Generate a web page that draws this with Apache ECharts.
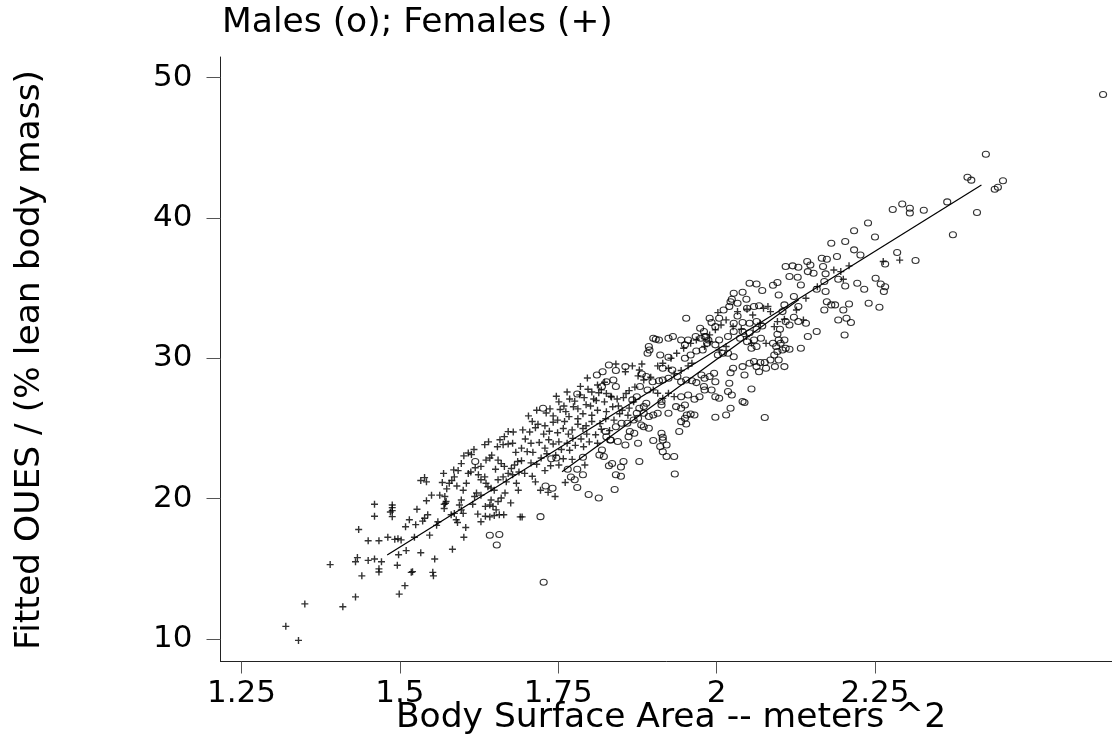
<!DOCTYPE html>
<html>
<head>
<meta charset="utf-8">
<script src="https://cdn.jsdelivr.net/npm/echarts@6/dist/echarts.min.js"></script>
<style>
html,body{margin:0;padding:0;background:#fff;}
#c{width:1112px;height:739px;}
</style>
</head>
<body>
<div id="c"></div>
<script>
const titleText = 'Males (o); Females (+)';
const xName = 'Body Surface Area -- meters ^2';
const yName = 'Fitted OUES / (% lean body mass)';
const xTicks = [1.25, 1.5, 1.75, 2, 2.25];
const yTicks = [10, 20, 30, 40, 50];

const femaleLow = [
[1.32,10.9],[1.34,9.9],[1.35,12.5],[1.39,15.3],[1.41,12.3],[1.43,13.0],[1.435,17.8],[1.44,14.5],[1.43,15.5],[1.433,15.8],
[1.45,15.6],[1.45,17.0],[1.46,15.7],[1.467,17.0],[1.46,19.6],[1.46,18.75],[1.467,15.0],[1.467,14.77],[1.471,15.5],[1.481,17.25],
[1.488,19.55],[1.488,19.36],[1.488,19.15],[1.485,19.05],[1.488,18.72],[1.492,17.1],[1.497,17.15],[1.502,17.06],[1.496,15.25],[1.498,16.0],
[1.499,13.2],[1.508,13.8],[1.51,16.3],[1.509,18.0],[1.515,18.5],[1.518,14.75],[1.52,14.8],[1.523,17.25],[1.527,19.25],[1.525,18.15],
[1.533,16.15],[1.533,21.3],[1.539,21.5],[1.542,21.2],[1.536,18.4],[1.539,18.6],[1.544,18.85],[1.542,19.85],[1.547,17.4],[1.55,20.25],
[1.552,14.75],[1.553,14.5],[1.555,15.7],[1.558,18.1],[1.56,18.35],[1.563,20.25],[1.571,20.15],[1.569,21.8],[1.567,21.15],[1.57,19.6],
[1.572,19.67],[1.573,19.8],[1.57,19.3],[1.574,20.7],[1.578,21.1],[1.582,21.3],[1.586,21.55],[1.583,16.4],[1.581,18.85],[1.586,18.95],
[1.589,18.5],[1.591,18.3],[1.585,22.05],[1.592,22.0],[1.594,19.55],[1.597,19.2],[1.6,18.95],[1.601,17.25],[1.604,17.95],[1.597,19.9],
[1.6,20.6],[1.605,21.1],[1.608,21.8],[1.597,22.5],[1.601,23.05],[1.608,23.25],[1.613,23.15],[1.617,23.5],[1.618,20.15],[1.621,20.4],
[1.628,20.25],[1.623,18.9],[1.628,18.35],[1.635,18.75],[1.642,18.7],[1.649,18.8],[1.657,18.85],[1.664,18.85],[1.635,19.45],[1.642,19.55],
[1.647,19.45],[1.652,19.2],[1.628,21.35],[1.634,21.55],[1.636,21.1],[1.639,20.85],[1.644,20.75],[1.649,20.6],[1.644,19.9],[1.655,19.8],
[1.66,20.05],[1.666,20.4],[1.675,19.7],[1.628,22.3],[1.636,22.75],[1.642,22.9],[1.645,23.1],[1.654,23.7],[1.663,23.85],[1.671,23.9],
[1.678,23.95],[1.634,23.85],[1.64,24.05],[1.655,22.75],[1.66,22.5],[1.665,22.3],[1.676,22.15],[1.681,22.4],[1.686,22.65],[1.655,21.35],
[1.663,21.55],[1.671,21.8],[1.678,21.7],[1.684,21.1],[1.687,20.6],[1.69,18.7],[1.761,21.15],[1.792,22.4],
[1.671,24.78],[1.679,24.75],[1.658,24.2],[1.665,24.42],
[1.612,21.9],[1.619,22.2],[1.624,21.7],[1.651,22.1],[1.668,21.2],[1.683,23.3],[1.692,23.6],[1.688,21.9],[1.615,19.6],[1.59,20.9]
];

const femaleMid = [
[1.737,26.4],[1.751,26.9],[1.759,26.6],[1.768,27.1],[1.776,26.95],[1.784,27.4],[1.791,27.2],[1.797,27.8],[1.803,27.6],[1.812,28.1],
[1.818,27.75],[1.823,28.3],[1.806,27.1],[1.814,27.55],[1.826,27.5],[1.833,27.3],
[1.731,26.1],[1.742,25.9],[1.753,26.35],[1.762,26.2],[1.774,26.55],[1.781,26.4],[1.794,26.7],[1.801,26.6],[1.81,27.0],[1.823,26.9],
[1.834,27.25],[1.843,27.1],[1.853,27.2],[1.857,27.5],[1.862,27.7],[1.871,27.95],
[1.709,25.5],[1.718,25.3],[1.729,25.2],[1.742,25.45],[1.749,25.6],[1.76,25.5],[1.767,25.85],[1.781,25.7],[1.789,26.05],[1.803,25.95],
[1.812,26.3],[1.826,26.2],[1.836,26.55],[1.845,26.6],[1.851,26.3],[1.862,26.45],[1.869,26.9],
[1.694,24.9],[1.705,24.75],[1.714,25.05],[1.727,24.6],[1.736,24.8],[1.749,24.7],[1.758,25.0],[1.772,24.9],[1.781,25.3],[1.794,25.2],
[1.803,25.5],[1.816,25.35],[1.825,25.7],[1.838,25.6],[1.847,26.05],[1.86,25.95],
[1.698,24.25],[1.707,23.95],[1.72,24.0],[1.729,23.6],[1.742,23.9],[1.751,24.05],[1.764,23.95],[1.773,24.3],[1.786,24.25],[1.795,24.6],
[1.809,24.55],[1.818,24.95],[1.831,24.85],
[1.701,23.35],[1.71,23.3],[1.723,22.9],[1.732,23.2],[1.746,23.1],[1.755,23.5],[1.768,23.45],[1.777,23.8],[1.79,23.7],[1.799,24.05],
[1.812,23.95],
[1.692,22.7],[1.707,22.55],[1.716,22.45],[1.729,22.0],[1.738,22.35],[1.751,22.4],[1.758,22.85],[1.772,22.8],
[1.697,21.8],[1.709,21.6],[1.722,20.6],[1.734,20.45],[1.745,20.15],[1.693,18.7],
[1.703,25.9],[1.716,26.3],[1.747,27.3],[1.764,27.6],[1.785,28.0],[1.796,28.6],[1.735,24.2],[1.766,24.6],[1.789,25.0],[1.714,21.2]
];

const femaleHigh = [
[1.841,29.6],[1.856,29.05],[1.867,29.46],[1.882,29.6],[1.878,29.17],[1.876,28.75],[1.885,28.46],[1.896,28.65],[1.907,29.46],[1.915,29.65],
[1.924,29.29],[1.933,28.89],[1.944,29.13],[1.955,29.46],[1.961,29.65],[1.928,30.01],[1.937,30.36],[1.948,30.72],[1.959,31.07],[1.968,31.31],
[1.981,30.84],[1.989,31.19],[2.004,30.6],[2.015,30.84],[1.989,31.67],[1.998,32.03],[2.007,32.38],[2.015,32.74],[2.002,33.26],[2.033,33.33],
[2.048,33.5],[2.074,33.57],[2.081,33.69],[2.085,33.33],[2.091,32.26],[2.078,31.07],[2.096,32.62],[2.107,32.79],[2.126,33.45],[2.137,32.74],
[2.141,34.28],[2.159,35.11],[2.185,36.3],[2.196,36.18],[2.209,36.59],[2.2,35.64],[2.263,36.9],[2.289,37.0],[2.057,33.09],[2.069,32.5],
[2.039,32.07],[2.026,32.26],[2.047,31.55],[2.055,31.07],[1.9,27.75],[1.907,27.51],[1.915,27.15],[1.924,27.51],[1.933,27.27]
];

const males = [
[1.619,22.65],[1.642,17.4],[1.657,17.45],[1.653,16.7],[1.727,14.05],
[1.78,20.8],[1.798,20.3],[1.814,20.05],[1.839,20.65],[1.841,21.7],[1.849,21.6],[1.849,22.25],[1.934,21.75],[1.765,22.1],[1.78,22.1],
[1.77,21.55],[1.776,21.35],[1.789,21.7],[1.83,22.35],[1.835,22.5],[1.853,22.65],[1.878,22.65],
[1.722,18.72],[1.73,20.91],[1.741,20.74],[1.739,22.85],[1.747,22.9],[1.726,26.44],[1.78,27.46],
[2.181,38.2],[2.203,38.32],[2.217,37.73],[2.227,37.37],[2.19,37.25],[2.174,37.06],[2.166,37.13],[2.285,37.54],[2.314,36.97],[2.266,36.73],
[2.109,36.54],[2.12,36.59],[2.129,36.49],[2.143,36.9],[2.148,36.66],[2.144,36.18],[2.153,36.06],[2.172,36.02],[2.168,36.54],[2.115,35.83],
[2.128,35.78],[2.133,35.23],[2.17,35.47],[2.192,35.64],[2.203,35.16],[2.222,35.35],[2.233,34.92],[2.251,35.71],[2.259,35.3],[2.266,35.11],
[2.264,34.76],[2.172,34.76],[2.158,34.92],[2.122,34.4],[2.098,34.52],[2.089,35.21],[2.096,35.4],[2.063,35.3],[2.052,35.35],[2.072,34.83],
[2.041,34.71],[2.027,34.64],[2.024,34.21],[2.033,33.93],[2.047,34.21],[2.022,34.04],[2.011,33.45],[2.02,33.69],[2.059,33.69],[2.067,33.74],
[2.048,33.57],[2.174,34.04],[2.181,33.81],[2.17,33.45],[2.187,33.81],[2.2,33.45],[2.209,33.88],[2.24,33.93],[2.257,33.64],[2.192,32.74],
[2.205,32.86],[2.212,32.55],[2.202,31.67],[2.158,31.91],[2.144,31.55],[2.141,32.5],[2.129,32.62],[2.122,32.93],[2.115,32.38],[2.109,32.62],
[2.1,32.07],[2.096,31.72],[2.107,31.31],[2.098,31.31],[2.101,31.07],[2.109,30.72],[2.115,30.65],[2.133,30.72],[2.104,33.33],[2.107,33.81],
[2.129,33.69],[1.952,32.86],[1.989,32.86],[1.992,32.55],[2.004,32.86],[1.998,32.26],[2.033,33.02],[2.027,32.5],[2.041,32.55],[2.052,32.5],
[2.063,32.62],[2.072,32.31],[2.063,32.07],[2.052,31.83],[2.041,31.91],[1.974,32.14],[1.98,31.91],[1.983,31.55],[1.975,31.43],[1.987,31.31],
[2.004,31.31],[2.018,31.55],[2.027,31.91],[2.037,31.43],[2.048,31.19],[2.059,31.31],[2.07,31.43],[2.063,30.84],[2.055,30.72],[2.089,31.07],
[2.094,30.84],[2.096,30.48],[2.104,30.6],[2.091,30.24],[2.085,29.89],[2.076,29.7],[2.098,29.89],[2.107,29.41],[2.092,29.41],[2.078,29.29],
[2.069,29.7],[2.059,29.77],[2.052,29.65],[2.063,29.41],[2.067,29.05],[2.044,28.82],[2.041,29.41],[2.026,29.29],[2.022,28.98],[2.02,28.22],
[2.027,30.12],[2.018,30.36],[1.9,31.43],[1.904,31.36],[1.909,31.31],[1.924,31.43],[1.931,31.55],[1.944,31.31],[1.95,30.96],[1.955,31.31],
[1.967,31.55],[1.981,31.55],[1.985,31.07],[1.998,30.96],[2.01,30.36],[2.002,30.24],[1.978,30.6],[1.968,30.53],[1.959,30.24],[1.95,30.01],
[1.924,30.08],[1.911,30.24],[1.893,30.84],[1.894,30.6],[1.891,30.36],[1.915,29.29],[1.93,29.17],[1.938,28.7],[1.924,28.58],[1.915,28.46],
[1.909,28.41],[1.944,28.34],[1.952,28.46],[1.961,28.41],[1.968,28.27],[1.976,28.82],[1.981,28.58],[1.989,28.7],[1.996,28.94],[1.998,28.34],
[1.98,27.99],[1.981,27.75],[1.973,27.27],[1.965,27.08],[1.955,27.39],[1.944,27.27],[1.992,27.75],[1.998,27.27],[2.004,27.15],[2.018,27.63],
[2.024,27.39],[2.041,26.92],[2.044,26.85],[2.055,27.82],[2.022,26.44],[2.015,25.97],[1.998,25.8],[2.076,25.78],[1.936,26.56],[1.944,26.44],
[1.95,26.68],[1.953,25.97],[1.959,26.04],[1.965,25.97],[1.95,25.73],[1.944,25.49],[1.952,25.32],[1.941,24.78],[1.913,24.66],[1.915,24.37],
[1.911,23.71],[1.915,24.18],[1.9,24.14],[1.921,23.83],[1.924,26.08],[1.913,26.92],[1.913,26.68],[1.907,26.08],[1.9,25.97],[1.893,25.85],
[1.885,26.08],[1.874,26.08],[1.876,25.73],[1.881,25.25],[1.885,25.13],[1.893,25.02],[1.87,24.66],[1.863,24.78],[1.861,24.42],[1.876,23.95],
[1.856,23.83],[1.844,24.07],[1.833,24.18],[1.826,24.42],[1.825,24.78],[1.841,25.13],[1.85,25.37],[1.859,25.37],[1.869,25.61],[1.878,26.44],
[1.885,26.56],[1.889,26.8],[1.867,27.04],[1.874,27.27],[1.891,27.75],[1.879,27.99],[1.899,28.34],[1.889,28.7],[1.882,28.89],[1.856,29.41],
[1.841,29.13],[1.837,28.46],[1.841,27.99],[1.83,29.53],[1.82,29.05],[1.811,28.82],[1.826,28.34],[1.819,27.99],[1.915,23.35],[1.921,23.0],
[1.933,23.0],[1.822,23.0],[1.815,23.12],[1.819,23.47],[1.832,24.18],[1.789,22.95],
[2.61,48.8],[2.425,44.55],[2.396,42.9],[2.402,42.7],[2.452,42.65],[2.439,42.05],[2.444,42.2],[2.364,41.15],[2.411,40.4],[2.278,40.6],
[2.293,41.0],[2.305,40.7],[2.305,40.35],[2.327,40.55],[2.239,39.65],[2.373,38.8],[2.25,38.65],[2.217,39.1]
];

const fitLineA = [[1.48, 15.99], [2.418, 42.36]];
const fitLineB = [[1.756, 21.92], [2.13, 34.2]];

const females = femaleLow.concat(femaleMid, femaleHigh);

const FONT = '"DejaVu Sans", "Liberation Sans", Arial, sans-serif';
const plusPath = 'path://M0,4H10V6H0Z M4,0H6V10H4Z';

const chart = echarts.init(document.getElementById('c'), null, {renderer: 'canvas', width: 1112, height: 739});
chart.setOption({
  animation: false,
  backgroundColor: '#ffffff',
  grid: {left: 220.5, right: 0, top: 57, bottom: 77.5, containLabel: false},
  xAxis: {
    type: 'value', min: 1.2169, max: 2.6241,
    axisLine: {show: true, onZero: false, lineStyle: {color: '#222', width: 1}},
    axisTick: {show: true, customValues: xTicks, length: 12, lineStyle: {color: '#555', width: 1}},
    axisLabel: {customValues: xTicks, margin: 32, verticalAlign: 'middle', fontFamily: FONT, fontSize: 31, color: '#000'},
    splitLine: {show: false}
  },
  yAxis: {
    type: 'value', min: 8.396, max: 51.475,
    axisLine: {show: true, onZero: false, lineStyle: {color: '#222', width: 1}},
    axisTick: {show: true, customValues: yTicks, length: 14, lineStyle: {color: '#555', width: 1}},
    axisLabel: {customValues: yTicks, margin: 28, padding: [7, 0, 0, 0], fontFamily: FONT, fontSize: 31, color: '#000'},
    splitLine: {show: false}
  },
  graphic: [
    {type: 'text', x: 222, y: 23, style: {text: titleText, font: '34.5px ' + FONT, fill: '#000', align: 'left', verticalAlign: 'middle', textAlign: 'left', textVerticalAlign: 'middle'}},
    {type: 'text', x: 671, y: 718, style: {text: xName, font: '34.5px ' + FONT, fill: '#000', align: 'center', verticalAlign: 'middle', textAlign: 'center', textVerticalAlign: 'middle'}},
    {type: 'text', x: 30, y: 360, rotation: Math.PI / 2, style: {text: yName, font: '34.5px ' + FONT, fill: '#000', align: 'center', verticalAlign: 'middle', textAlign: 'center', textVerticalAlign: 'middle'}}
  ],
  series: [
    {type: 'scatter', name: 'Females', data: females, symbol: plusPath, symbolSize: 7,
     itemStyle: {color: '#000'}, silent: true},
    {type: 'scatter', name: 'Males', data: males, symbol: 'circle', symbolSize: [7, 6],
     itemStyle: {color: 'rgba(255,255,255,0)', borderColor: '#000', borderWidth: 1.1}, silent: true},
    {type: 'line', data: fitLineA, symbol: 'none', lineStyle: {color: '#000', width: 1.2}, silent: true, z: 3},
    {type: 'line', data: fitLineB, symbol: 'none', lineStyle: {color: '#000', width: 1.2}, silent: true, z: 3}
  ]
});
</script>
</body>
</html>
